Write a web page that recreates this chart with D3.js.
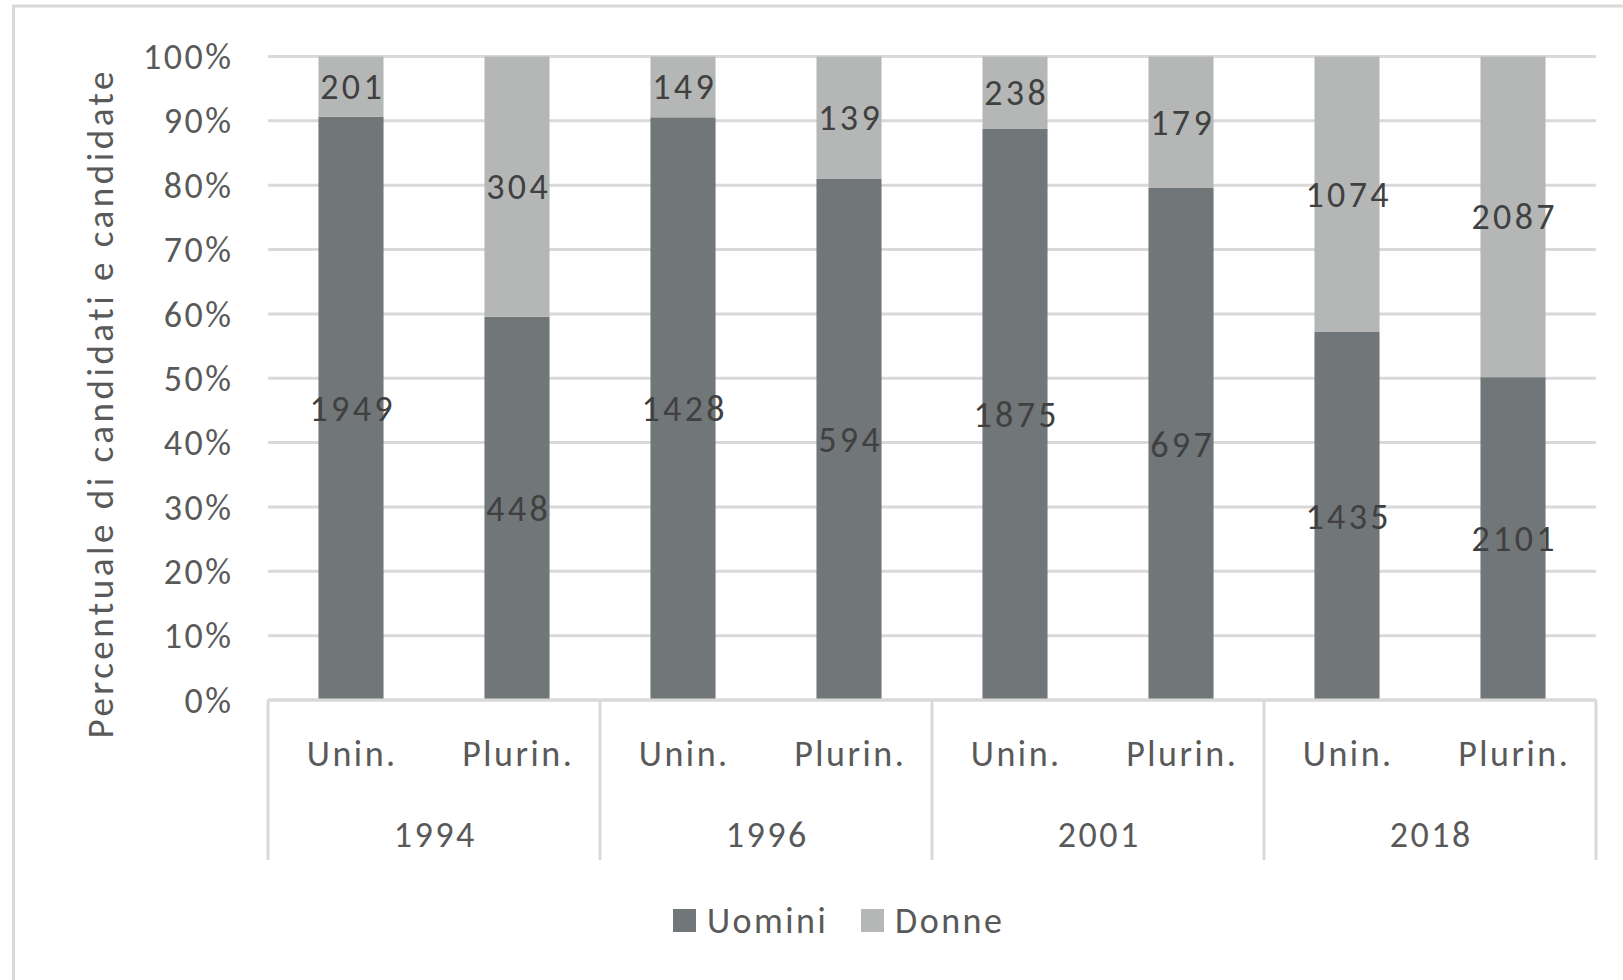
<!DOCTYPE html>
<html>
<head>
<meta charset="utf-8">
<script src="https://cdn.jsdelivr.net/npm/d3@7"></script>
<style>
  body { margin: 0; background: #fff; }
  svg { display: block; }
  text { font-family: Carlito, Calibri, Lato, sans-serif; }
</style>
</head>
<body>
<svg id="chart" width="1623" height="980"></svg>
<script>
const years = ['1994', '1996', '2001', '2018'];
const seggi = ['Unin.', 'Plurin.'];
const uomini = [1949, 448, 1428, 594, 1875, 697, 1435, 2101];
const donne = [201, 304, 149, 139, 238, 179, 1074, 2087];
const yTicks = [0, 0.1, 0.2, 0.3, 0.4, 0.5, 0.6, 0.7, 0.8, 0.9, 1];
const seriesNames = ['Uomini', 'Donne'];

const width = 1623;
const height = 980;
const plotLeft = 268;
const plotRight = 1596;
const plotTop = 56.5;
const plotBottom = 700;

// letter spacing to match the wide, upscaled look of the original
const ls = 2.5;
const lsLabel = 3.3;
const lsTitle = 3.5;

// one row per bar: year + seat type
const rows = [];
years.forEach((y, i) => {
  seggi.forEach((s, j) => {
    const k = i * seggi.length + j;
    rows.push({ key: y + '-' + s, year: y, seat: s, Uomini: uomini[k], Donne: donne[k] });
  });
});

const color = d3.scaleOrdinal()
  .domain(seriesNames)
  .range(['#717678', '#b5b7b6']);

const xscale = d3.scaleBand()
  .domain(rows.map(d => d.key))
  .range([plotLeft, plotRight])
  .paddingInner(0.608)
  .paddingOuter(0.304);

const yearScale = d3.scaleBand()
  .domain(years)
  .range([plotLeft, plotRight]);

const yscale = d3.scaleLinear()
  .domain([0, 1])
  .range([plotBottom, plotTop]);

const stacked = d3.stack()
  .keys(seriesNames)
  .offset(d3.stackOffsetExpand)(rows);

const svg = d3.select('#chart');

svg.append('rect')
  .attr('width', width)
  .attr('height', height)
  .attr('fill', '#fff');

// chart area border (runs off the right and bottom edge)
svg.append('rect')
  .attr('x', 13.5)
  .attr('y', 6)
  .attr('width', 1700)
  .attr('height', 1100)
  .attr('fill', 'none')
  .attr('stroke', '#d9d9d9')
  .attr('stroke-width', 3);

// gridlines
svg.append('g')
  .selectAll('line')
  .data(yTicks)
  .enter()
  .append('line')
  .attr('x1', plotLeft)
  .attr('x2', plotRight)
  .attr('y1', d => yscale(d))
  .attr('y2', d => yscale(d))
  .attr('stroke', '#d9d9d9')
  .attr('stroke-width', 3);

// y tick labels
svg.append('g')
  .selectAll('text')
  .data(yTicks)
  .enter()
  .append('text')
  .attr('x', 231 + ls)
  .attr('y', d => yscale(d))
  .attr('dy', '0.35em')
  .attr('text-anchor', 'end')
  .attr('font-size', 36)
  .attr('letter-spacing', ls)
  .attr('fill', '#595959')
  .text(d => d3.format('.0%')(d));

// bars
const layers = svg.append('g')
  .selectAll('g')
  .data(stacked)
  .enter()
  .append('g')
  .attr('fill', d => color(d.key));

layers.selectAll('rect')
  .data(d => d)
  .enter()
  .append('rect')
  .attr('x', d => xscale(d.data.key))
  .attr('y', d => yscale(d[1]))
  .attr('width', xscale.bandwidth())
  .attr('height', d => yscale(d[0]) - yscale(d[1]));

// data labels
layers.each(function (layer) {
  d3.select(this)
    .selectAll('text')
    .data(layer)
    .enter()
    .append('text')
    .attr('x', d => xscale(d.data.key) + xscale.bandwidth() / 2 + lsLabel / 2)
    .attr('y', d => yscale((d[0] + d[1]) / 2))
    .attr('dy', '0.35em')
    .attr('text-anchor', 'middle')
    .attr('font-size', 36)
    .attr('letter-spacing', lsLabel)
    .attr('fill', '#404040')
    .text(d => d.data[layer.key]);
});

// category axis: baseline and group separators
const axis = svg.append('g');
axis.append('line')
  .attr('x1', plotLeft)
  .attr('x2', plotRight)
  .attr('y1', plotBottom)
  .attr('y2', plotBottom)
  .attr('stroke', '#d9d9d9')
  .attr('stroke-width', 3);

const seps = years.map(y => yearScale(y)).concat([plotRight]);
axis.selectAll('line.sep')
  .data(seps)
  .enter()
  .append('line')
  .attr('class', 'sep')
  .attr('x1', d => d)
  .attr('x2', d => d)
  .attr('y1', plotBottom)
  .attr('y2', 860)
  .attr('stroke', '#d9d9d9')
  .attr('stroke-width', 3);

axis.selectAll('text.seat')
  .data(rows)
  .enter()
  .append('text')
  .attr('class', 'seat')
  .attr('x', d => xscale(d.key) + xscale.bandwidth() / 2 + ls / 2)
  .attr('y', 753)
  .attr('dy', '0.35em')
  .attr('text-anchor', 'middle')
  .attr('font-size', 36)
  .attr('letter-spacing', ls)
  .attr('fill', '#595959')
  .text(d => d.seat);

axis.selectAll('text.year')
  .data(years)
  .enter()
  .append('text')
  .attr('class', 'year')
  .attr('x', d => yearScale(d) + yearScale.bandwidth() / 2 + ls / 2)
  .attr('y', 834)
  .attr('dy', '0.35em')
  .attr('text-anchor', 'middle')
  .attr('font-size', 36)
  .attr('letter-spacing', ls)
  .attr('fill', '#595959')
  .text(d => d);

// y axis title
svg.append('text')
  .attr('transform', `translate(100, ${405 - lsTitle / 2}) rotate(-90)`)
  .attr('dy', '0.35em')
  .attr('text-anchor', 'middle')
  .attr('font-size', 37)
  .attr('letter-spacing', lsTitle)
  .attr('fill', '#595959')
  .text('Percentuale di candidati e candidate');

// legend
const legendX = [673, 861];
const legend = svg.append('g')
  .selectAll('g')
  .data(seriesNames)
  .enter()
  .append('g')
  .attr('transform', (d, i) => `translate(${legendX[i]}, 909)`);

legend.append('rect')
  .attr('width', 23)
  .attr('height', 23)
  .attr('fill', d => color(d));

legend.append('text')
  .attr('x', 34)
  .attr('y', 11.5)
  .attr('dy', '0.35em')
  .attr('font-size', 36)
  .attr('letter-spacing', ls)
  .attr('fill', '#595959')
  .text(d => d);
</script>
</body>
</html>
